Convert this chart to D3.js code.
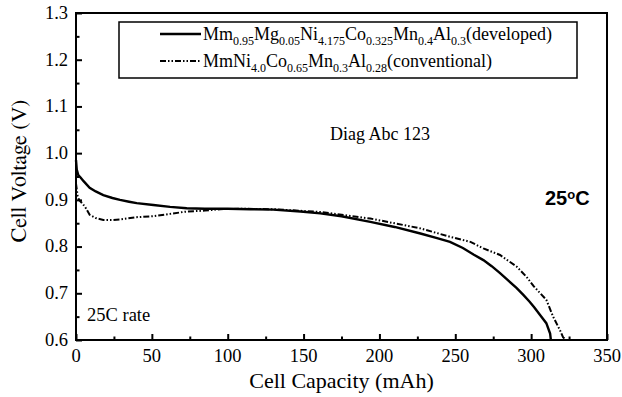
<!DOCTYPE html>
<html><head><meta charset="utf-8">
<script src="https://cdn.jsdelivr.net/npm/d3@7/dist/d3.min.js"></script>
</head><body style="margin:0">
<svg id="c" width="622" height="397"></svg>
<script>
const devCap = [0, 0.5, 1.5, 3, 5, 9, 13, 18, 24, 29, 35, 40, 51, 62, 73, 85, 100, 115, 130, 148, 161, 175, 194, 210, 227, 238, 246.5, 255, 262, 268.5, 274, 279.5, 285, 290.5, 295, 299, 302, 306, 310, 312.5, 313];
const devV   = [0.985, 0.965, 0.953, 0.948, 0.940, 0.926, 0.918, 0.910, 0.904, 0.900, 0.896, 0.893, 0.889, 0.885, 0.882, 0.881, 0.881, 0.880, 0.879, 0.875, 0.871, 0.865, 0.853, 0.842, 0.828, 0.818, 0.810, 0.797, 0.783, 0.771, 0.758, 0.743, 0.727, 0.711, 0.696, 0.682, 0.670, 0.653, 0.636, 0.614, 0.600];
const convCap = [0, 1, 2, 4, 6, 9, 13, 18, 24, 29, 40, 51, 62, 73, 85, 95, 110, 130, 161, 194, 227, 246.5, 260, 268.5, 279.5, 290.5, 297, 301.5, 306, 310, 314.5, 319, 321, 323];
const convV   = [0.935, 0.910, 0.900, 0.893, 0.885, 0.868, 0.861, 0.857, 0.857, 0.858, 0.863, 0.865, 0.870, 0.875, 0.877, 0.880, 0.881, 0.880, 0.874, 0.860, 0.839, 0.821, 0.810, 0.796, 0.782, 0.757, 0.735, 0.716, 0.700, 0.686, 0.650, 0.621, 0.606, 0.600];
const xTicks = [0, 50, 100, 150, 200, 250, 300, 350];
const xMinor = [25, 75, 125, 175, 225, 275, 325];
const yTicks = [0.6, 0.7, 0.8, 0.9, 1.0, 1.1, 1.2, 1.3];
const yMinor = [0.65, 0.75, 0.85, 0.95, 1.05, 1.15, 1.25];
const legend1 = [["Mm",0],["0.95",1],["Mg",0],["0.05",1],["Ni",0],["4.175",1],["Co",0],["0.325",1],["Mn",0],["0.4",1],["Al",0],["0.3",1],["(developed)",0]];
const legend2 = [["MmNi",0],["4.0",1],["Co",0],["0.65",1],["Mn",0],["0.3",1],["Al",0],["0.28",1],["(conventional)",0]];

const svg = d3.select("#c");
const L = 76, R = 607, T = 13, B = 340;
const x = d3.scaleLinear().domain([0, 350]).range([L, R]);
const y = d3.scaleLinear().domain([0.6, 1.3]).range([B, T]);

const gMarks = svg.append("g");
const gText = svg.append("g");

gText.selectAll("text.xl").data(xTicks).enter().append("text")
  .attr("x", d => x(d)).attr("y", 362).attr("text-anchor","middle")
  .style("font-family",'"Tinos"').style("font-size","18.5px").text(d3.format("d"));
gText.selectAll("text.yl").data(yTicks).enter().append("text")
  .attr("x", L - 8).attr("y", d => y(d)).attr("dy","0.32em").attr("text-anchor","end")
  .style("font-family",'"Nimbus Roman"').style("font-size","18.5px").text(d3.format(".1f"));
gText.append("text").attr("x",(L+R)/2).attr("y",388).attr("text-anchor","middle")
  .style("font-family",'"Times New Roman"').style("font-size","22px").text("Cell Capacity (mAh)");
gText.append("text").attr("transform","translate(26,171) rotate(-90)").attr("text-anchor","middle")
  .style("font-family",'"FreeSerif"').style("font-size","22px").text("Cell Voltage (V)");
gText.append("text").attr("x",87).attr("y",321)
  .style("font-family",'"Liberation Serif"').style("font-size","18.5px").text("25C rate");
const tc = gText.append("text").attr("x",545).attr("y",205)
  .style("font-family",'"Liberation Sans"').style("font-weight","bold").style("font-size","20px");
tc.append("tspan").text("25");
tc.append("tspan").attr("dy",-6).style("font-size","13px").text("o");
tc.append("tspan").attr("dy",6).text("C");
gText.append("text").attr("x",330).attr("y",140)
  .style("font-family",'"Liberation Serif"').style("font-size","18px").text("Diag Abc 123");
function legendText(parts, yy) {
  const t = gText.append("text").attr("x",203).attr("y",yy)
    .style("font-family",'"Liberation Serif"').style("font-size","18px");
  let prev = 0;
  parts.forEach(([s,sub]) => {
    t.append("tspan").attr("dy",(sub - prev) * 4.5).style("font-size", sub ? "12px" : "18px").text(s);
    prev = sub;
  });
}
legendText(legend1, 40);
legendText(legend2, 67);

const line = d3.line().x(d => x(d[0])).y(d => y(d[1]));
gMarks.append("path").datum(convCap.map((c,i)=>[c,convV[i]]))
  .attr("d", line).attr("fill","none").attr("stroke","#000").attr("stroke-width",2)
  .attr("stroke-dasharray","6,2,1.5,2,1.5,2");
gMarks.append("path").datum(devCap.map((c,i)=>[c,devV[i]]))
  .attr("d", line).attr("fill","none").attr("stroke","#000").attr("stroke-width",2.4);

function ticks(g) {
  g.select(".domain").remove();
  g.selectAll("text").remove();
  g.selectAll(".tick line").attr("stroke","#000").attr("stroke-width",2);
}
gMarks.append("g").attr("transform",`translate(0,${B})`)
  .call(d3.axisBottom(x).tickValues(xTicks).tickSize(-6)).call(ticks);
gMarks.append("g").attr("transform",`translate(0,${B})`)
  .call(d3.axisBottom(x).tickValues(xMinor).tickSize(-3.5)).call(ticks);
gMarks.append("g").attr("transform",`translate(${L},0)`)
  .call(d3.axisLeft(y).tickValues(yTicks).tickSize(-6)).call(ticks);
gMarks.append("g").attr("transform",`translate(${L},0)`)
  .call(d3.axisLeft(y).tickValues(yMinor).tickSize(-3.5)).call(ticks);

gMarks.append("rect").attr("x",L).attr("y",T).attr("width",R-L).attr("height",B-T)
  .attr("fill","none").attr("stroke","#000").attr("stroke-width",2);

gMarks.append("rect").attr("x",119).attr("y",22).attr("width",458).attr("height",56)
  .attr("fill","#fff").attr("stroke","#000").attr("stroke-width",1.5);
gMarks.append("line").attr("x1",160).attr("x2",201).attr("y1",34).attr("y2",34)
  .attr("stroke","#000").attr("stroke-width",2.4);
gMarks.append("line").attr("x1",160).attr("x2",201).attr("y1",61).attr("y2",61)
  .attr("stroke","#000").attr("stroke-width",2).attr("stroke-dasharray","6,2,1.5,2,1.5,2");
</script></body></html>
